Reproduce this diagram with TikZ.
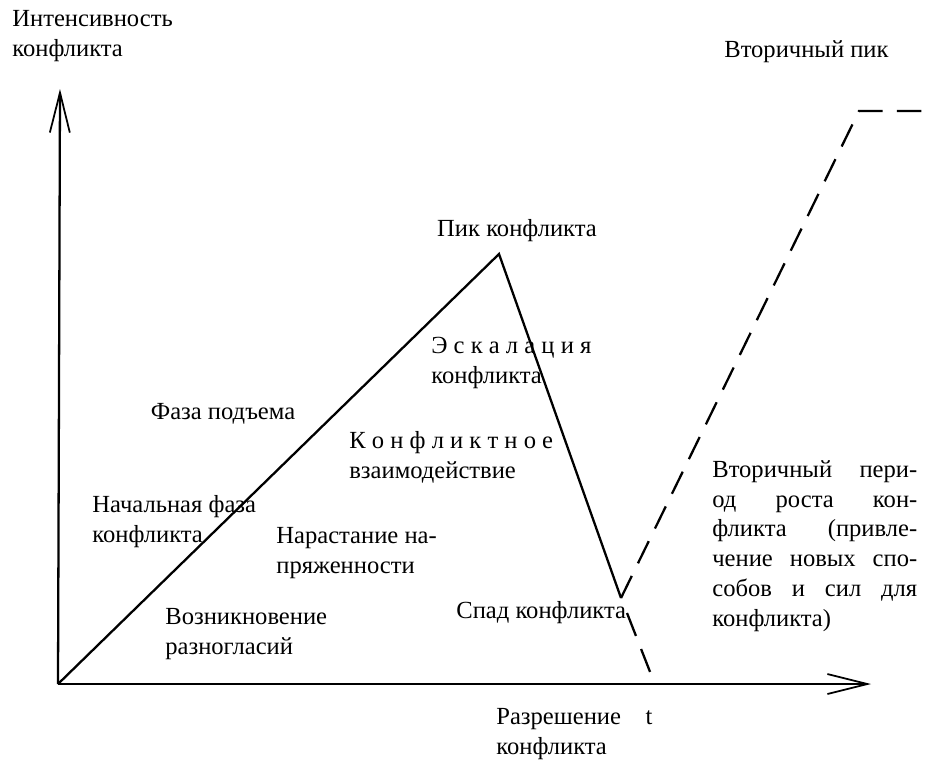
\documentclass[tikz,border=0pt]{standalone}
\usepackage{fontspec}
\setmainfont{Liberation Serif}
\usetikzlibrary{arrows.meta, positioning}

\newcommand{\jline}[1]{\leavevmode\hbox to 4.1cm{#1}}

\begin{document}
\begin{tikzpicture}[
  x=0.02cm, y=-0.02cm,
  every node/.style={font=\fontsize{14}{17}\selectfont, inner sep=0pt},
  axis/.style={line width=1.3pt, -{Straight Barb[length=8mm, width=4mm, line width=1pt]}},
  curve/.style={line width=1.3pt},
  dashcurve/.style={line width=1.3pt, dash pattern=on 14pt off 8pt},
  lbl/.style={anchor=west, align=left},
]
\useasboundingbox (0,0) rectangle (940,775);

% Points of the curve
\coordinate (o) at (58,684);
\coordinate (ytop) at (60,89);
\coordinate (xend) at (871,684);
\coordinate (peak) at (499,254);
\coordinate (low) at (621,598);
\coordinate (fall) at (627,613);
\coordinate (res) at (654,682);
\coordinate (peak2) at (859,111);
\coordinate (tail) at (923,111);

% Axes
\draw[axis] (o) -- (ytop);
\draw[axis] (o) -- (xend);

% Conflict curve
\draw[curve] (o) -- (peak) -- (low);
\draw[dashcurve] (fall) -- (res);
\draw[dashcurve] (low) -- (peak2) -- (tail);

% Labels
\node[lbl, anchor=north west] (yl) at (12,10) {Интенсивность\\конфликта};
\node[lbl] (sp) at (724,52) {Вторичный пик};
\node (pk) at (517,231) {Пик конфликта};
\node[lbl] (esc) at (431,363) {Э с к а л а ц и я\\конфликта};
\node (rise) at (223,414) {Фаза подъема};
\node[lbl] (inter) at (349,457) {К о н ф л и к т н о е\\взаимодействие};
\node[lbl] (init) at (92,522) {Начальная фаза\\конфликта};
\node[lbl] (tens) at (276,553) {Нарастание на-\\пряженности};
\node[lbl] (dis) at (165,634) {Возникновение\\разногласий};
\node[lbl] (dec) at (456,613) {Спад конфликта};
\node[lbl] (sec) at (712,546) {%
  \jline{Вторичный\hfill пери-}\\
  \jline{од\hfill роста\hfill кон-}\\
  \jline{фликта\hfill(привле-}\\
  \jline{чение\hfill новых\hfill спо-}\\
  \jline{собов\hfill и\hfill сил\hfill для}\\
  конфликта)};
\node[lbl] (resl) at (496,734) {Разрешение\quad t\\конфликта};
\end{tikzpicture}
\end{document}
